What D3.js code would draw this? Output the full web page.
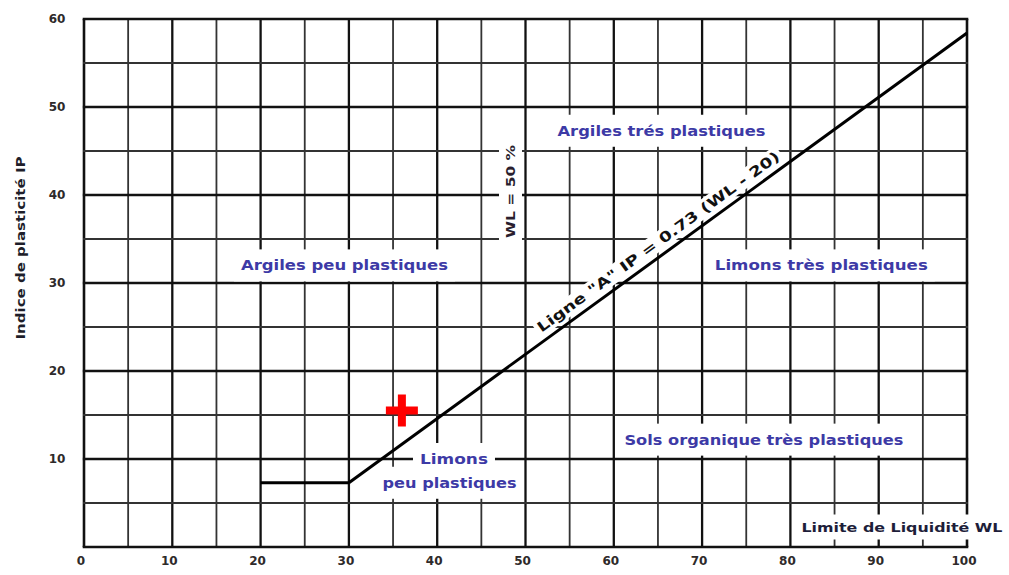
<!DOCTYPE html>
<html>
<head>
<meta charset="utf-8">
<script src="https://cdn.jsdelivr.net/npm/d3@7"></script>
<style>
  html, body { margin: 0; padding: 0; background: #fff; }
  svg { display: block; }
  text { font-family: "DejaVu Sans", Verdana, sans-serif; font-weight: bold; }
</style>
</head>
<body>
<svg id="chart" width="1009" height="575"></svg>
<script>
// ---- data ----
const xTicks = [0, 10, 20, 30, 40, 50, 60, 70, 80, 90, 100];
const yTicks = [10, 20, 30, 40, 50, 60];
const gridStep = 5;
const aLineWL = [30, 100];            // Ligne "A": IP = 0.73 (WL - 20)
const aLineCoef = 0.73, aLineOffset = 20;
const lowerBoundWL = [20, 30];         // horizontal segment at IP = 0.73*(30-20)
const samplePoint = { wl: 36, ip: 15.5 };
const zoneLabels = [
  { text: "Argiles peu plastiques", wl: 29.5, ip: 32.0, w: 207 },
  { text: "Argiles trés plastiques", wl: 65.4, ip: 47.3, w: 208 },
  { text: "Limons très plastiques", wl: 83.5, ip: 32.0, w: 213 },
  { text: "Sols organique très plastiques", wl: 77.0, ip: 12.2, w: 279 },
  { text: "Limons", wl: 41.9, ip: 10.0, w: 68 },
  { text: "peu plastiques", wl: 41.4, ip: 7.3, w: 134 }
];
const xTitle = "Limite de Liquidité WL";
const yTitle = "Indice de plasticité IP";
const wlLabel = "WL = 50 %";
const aLineLabel = 'Ligne "A"  IP = 0.73 (WL - 20)';

// ---- layout ----
const svg = d3.select("#chart");
const x = d3.scaleLinear().domain([0, 100]).range([84, 967]);
const y = d3.scaleLinear().domain([0, 60]).range([547, 19]);

// grid
const g = svg.append("g");
const xs = d3.range(0, 100 + 0.001, gridStep);
const ys = d3.range(0, 60 + 0.001, gridStep);
g.selectAll("line.v").data(xs).join("line")
  .attr("x1", d => x(d)).attr("x2", d => x(d))
  .attr("y1", y(0)).attr("y2", y(60))
  .attr("stroke", d => d % 10 === 0 ? "#111" : "#333")
  .attr("stroke-width", d => (d === 0 || d === 100) ? 2.6 : (d % 10 === 0 ? 2.3 : 1.8));
g.selectAll("line.h").data(ys).join("line")
  .attr("y1", d => y(d)).attr("y2", d => y(d))
  .attr("x1", x(0)).attr("x2", x(100))
  .attr("stroke", d => d % 10 === 0 ? "#111" : "#333")
  .attr("stroke-width", d => (d === 0 || d === 60) ? 2.6 : (d % 10 === 0 ? 2.3 : 1.8))
  .attr("stroke-linecap", "square");

// helper: text with white background
function labelWithBg(parent, opts) {
  const grp = parent.append("g").attr("transform", opts.transform || null);
  const rect = grp.append("rect").attr("fill", "#fff");
  const t = grp.append("text")
    .attr("x", opts.x).attr("y", opts.y)
    .attr("text-anchor", "middle").attr("dominant-baseline", "central")
    .attr("font-size", opts.size).attr("fill", opts.color)
    .text(opts.text);
  if (opts.w) t.attr("textLength", opts.w).attr("lengthAdjust", "spacingAndGlyphs");
  const bb = t.node().getBBox();
  rect.attr("x", bb.x - opts.px).attr("y", bb.y - opts.py)
    .attr("width", bb.width + 2 * opts.px).attr("height", bb.height + 2 * opts.py);
  return grp;
}

const labelColor = "#3d3aa6";
zoneLabels.forEach(d => {
  labelWithBg(svg, { x: x(d.wl), y: y(d.ip), text: d.text, size: 13.5, color: labelColor, w: d.w, px: 7, py: 8 });
});

// x title
labelWithBg(svg, { x: 902, y: 527, text: xTitle, size: 13, color: "#1e1e3a", w: 201, px: 5, py: 5 });

// WL = 50 % vertical label
labelWithBg(svg, { x: 0, y: 0, text: wlLabel, size: 13, color: "#2a1e2e", w: 93, px: 6, py: 4,
  transform: `translate(${x(48.3)},${y(40.4)}) rotate(-90)` });

// A-line label
const px1 = x(aLineWL[0]), py1 = y(aLineCoef * (aLineWL[0] - aLineOffset));
const px2 = x(aLineWL[1]), py2 = y(aLineCoef * (aLineWL[1] - aLineOffset));
const ang = Math.atan2(py2 - py1, px2 - px1) * 180 / Math.PI;
const midWL = 65.9;
const mx = x(midWL), my = y(aLineCoef * (midWL - aLineOffset));
const rad = ang * Math.PI / 180;
const off = 13;
const cx = mx + off * Math.sin(rad), cy = my - off * Math.cos(rad);
labelWithBg(svg, { x: 0, y: 0, text: aLineLabel, size: 14, color: "#111", w: 296, px: 3, py: 1,
  transform: `translate(${cx},${cy}) rotate(${ang})` });

// A-line and lower bound
const line = d3.line().x(d => x(d[0])).y(d => y(d[1]));
const aPts = aLineWL.map(w => [w, aLineCoef * (w - aLineOffset)]);
svg.append("path").attr("d", line(aPts)).attr("fill", "none")
  .attr("stroke", "#000").attr("stroke-width", 3);
const ip0 = aLineCoef * (aLineWL[0] - aLineOffset);
svg.append("path").attr("d", line(lowerBoundWL.map(w => [w, ip0]))).attr("fill", "none")
  .attr("stroke", "#000").attr("stroke-width", 3);

// sample point: red cross
const sx = x(samplePoint.wl), sy = y(samplePoint.ip);
const cs = 16;
svg.append("path")
  .attr("d", `M${sx - cs},${sy}H${sx + cs}M${sx},${sy - cs}V${sy + cs}`)
  .attr("stroke", "#ff0000").attr("stroke-width", 8).attr("fill", "none");

// x tick labels
svg.append("g").selectAll("text").data(xTicks).join("text")
  .attr("x", d => x(d) - 3).attr("y", 561)
  .attr("text-anchor", "middle").attr("dominant-baseline", "central")
  .attr("font-size", 12).attr("fill", "#2e2a2a")
  .text(d => d);

// y tick labels
svg.append("g").selectAll("text").data(yTicks).join("text")
  .attr("x", 57).attr("y", d => y(d))
  .attr("text-anchor", "middle").attr("dominant-baseline", "central")
  .attr("font-size", 12).attr("fill", "#2e2a2a")
  .text(d => d);

// y title
svg.append("text")
  .attr("transform", `translate(21,248) rotate(-90)`)
  .attr("text-anchor", "middle").attr("dominant-baseline", "central")
  .attr("font-size", 11.5).attr("fill", "#1e1e2a")
  .attr("textLength", 183).attr("lengthAdjust", "spacingAndGlyphs")
  .text(yTitle);
</script>
</body>
</html>
